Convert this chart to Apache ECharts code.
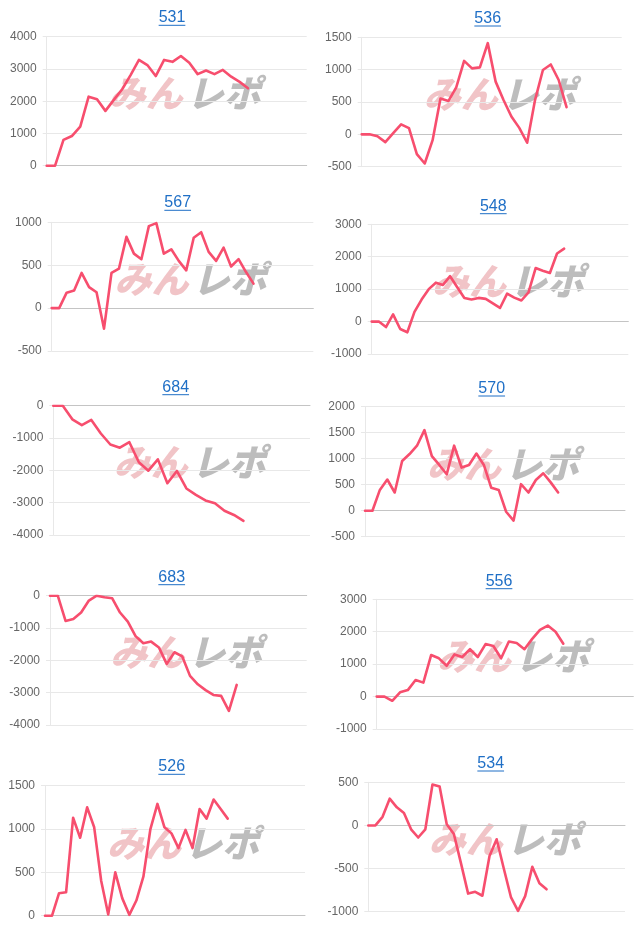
<!DOCTYPE html>
<html><head><meta charset="utf-8">
<script src="https://cdn.jsdelivr.net/npm/echarts@6/dist/echarts.min.js"></script>
<style>html,body{margin:0;padding:0;background:#fff}#c{width:640px;height:931px}</style>
</head><body><div id="c"></div>
<script>
// ---- data ----
const titles = ['531','536','567','548','684','570','683','556','526','534'];
const v531 = [0,0,800,920,1210,2140,2060,1700,2040,2370,2810,3280,3120,2780,3280,3220,3400,3190,2840,2950,2840,2970,2760,2600,2400];
const v536 = [0,0,-30,-120,20,155,95,-305,-450,-90,555,515,725,1135,1020,1035,1410,815,530,275,100,-130,530,995,1080,840,420];
const v567 = [0,0,180,205,410,245,185,-240,410,460,830,635,570,955,990,635,685,550,440,820,885,655,550,705,485,570,420,285];
const v548 = [0,0,-170,220,-230,-330,300,680,1000,1200,1130,1400,1060,730,680,730,700,560,420,860,740,650,900,1650,1570,1500,2100,2250];
const v684 = [0,0,-420,-600,-440,-860,-1200,-1300,-1130,-1750,-2010,-1660,-2400,-2020,-2560,-2760,-2930,-3020,-3250,-3380,-3560];
const v570 = [0,0,400,600,350,955,1090,1250,1550,1050,880,700,1250,830,880,1100,880,440,400,-20,-190,510,350,590,720,545,350];
const v683 = [0,0,-780,-720,-520,-150,0,-50,-80,-520,-800,-1250,-1470,-1420,-1600,-2110,-1750,-1880,-2480,-2740,-2920,-3070,-3100,-3560,-2760];
const v556 = [0,0,-130,130,200,510,430,1280,1180,950,1300,1220,1460,1220,1620,1560,1180,1700,1650,1460,1780,2060,2190,2000,1630];
const v526 = [0,0,260,270,1130,900,1250,1020,400,15,500,200,10,175,450,1000,1290,1020,950,780,990,780,1230,1120,1340,1230,1120];
const v534 = [0,0,100,310,210,145,-45,-140,-45,475,450,15,-100,-440,-790,-770,-815,-355,-160,-500,-830,-990,-820,-480,-670,-740];
const seriesValues = [v531,v536,v567,v548,v684,v570,v683,v556,v526,v534];
// number of day slots on each x axis
const dayCounts = [32,34,36,37,28,36,34,34,38,37];
// y-axis tick ranges
const yMin  = [0,-500,-500,-1000,-4000,-500,-4000,-1000,0,-1000];
const yMax  = [4000,1500,1000,3000,0,2000,0,3000,1500,500];
const yStep = [1000,500,500,1000,1000,500,1000,1000,500,500];

// ---- layout (pixels) ----
const layout = [
 {L:46.7,R:306.7,T:36.7,B:165.7,tx:172,ty:17.8},
 {L:361.7,R:621.7,T:37.3,B:166.7,tx:487.7,ty:18.5},
 {L:51.7,R:313.3,T:222.3,B:351,tx:177.7,ty:202.8},
 {L:371.7,R:628.3,T:224.3,B:354,tx:493.3,ty:206.2},
 {L:53.3,R:310,T:405.7,B:535,tx:175.7,ty:387.2},
 {L:365,R:625,T:406.7,B:536.7,tx:491.7,ty:388.5},
 {L:50,R:306.7,T:595.7,B:725,tx:171.7,ty:577.2},
 {L:376.7,R:633.3,T:599.3,B:729,tx:499,ty:581.2},
 {L:45,R:305,T:785.7,B:915.7,tx:171.7,ty:766.8},
 {L:368.3,R:625,T:782.3,B:911.7,tx:490.7,ty:763.5}
];

const FONT = '"Liberation Sans", Arial, sans-serif';
const TITLE_COLOR = '#1f6fc6';
const LINE_COLOR = '#f74e6e';

const cv = document.createElement('canvas').getContext('2d');
cv.font = '16px ' + FONT;

const grid = [], xAxis = [], yAxis = [], series = [], graphic = [];
titles.forEach((t, i) => {
  const g = layout[i];
  grid.push({left: g.L, top: g.T, width: g.R - g.L, height: g.B - g.T, containLabel: false});
  const cats = [];
  for (let d = 1; d <= dayCounts[i]; d++) cats.push(String(d));
  xAxis.push({
    gridIndex: i, type: 'category', data: cats, boundaryGap: false,
    axisLine: {show: true, onZero: true, lineStyle: {color: '#c4c4c4', width: 1}},
    axisTick: {show: false}, axisLabel: {show: false}, splitLine: {show: false}
  });
  yAxis.push({
    gridIndex: i, type: 'value', min: yMin[i], max: yMax[i], interval: yStep[i],
    axisLine: {show: true, lineStyle: {color: '#e8e8e8'}},
    axisTick: {show: true, length: 4, lineStyle: {color: '#e8e8e8'}},
    axisLabel: {color: '#666', fontSize: 12, fontFamily: FONT, margin: 10, formatter: v => String(v)},
    splitLine: {show: true, lineStyle: {color: '#e8e8e8', width: 1}}
  });
  series.push({
    type: 'line', xAxisIndex: i, yAxisIndex: i, data: seriesValues[i],
    showSymbol: false, symbol: 'none', silent: true, z: 3,
    lineStyle: {color: LINE_COLOR, width: 2.6, join: 'round', cap: 'round'}
  });
  // title (link-style, underlined)
  const w = cv.measureText(t).width;
  graphic.push({
    type: 'text', x: g.tx, y: g.ty, z: 10,
    style: {text: t, fill: TITLE_COLOR, font: '16px ' + FONT, textAlign: 'center', textVerticalAlign: 'middle'}
  });
  graphic.push({
    type: 'line', z: 10,
    shape: {x1: g.tx - w / 2, y1: g.ty + 7.5, x2: g.tx + w / 2, y2: g.ty + 7.5},
    style: {stroke: TITLE_COLOR, lineWidth: 1}
  });
  // watermark
  const cx = (g.L + g.R) / 2, cy = (g.T + g.B) / 2;
  graphic.push({
    type: 'text', x: cx - 68, y: cy - 8, z: 0,
    style: {text: 'みん', fill: 'rgba(225,125,130,0.45)', fontSize: 37, fontWeight: 900, fontStyle: 'italic',
      fontFamily: '"Noto Sans CJK JP", sans-serif', textAlign: 'left', textVerticalAlign: 'middle'}
  });
  graphic.push({
    type: 'text', x: cx + 10, y: cy - 8, z: 0,
    style: {text: 'レポ', fill: 'rgba(135,135,135,0.55)', fontSize: 37, fontWeight: 900, fontStyle: 'italic',
      fontFamily: '"Noto Sans CJK JP", sans-serif', textAlign: 'left', textVerticalAlign: 'middle'}
  });
});

const chart = echarts.init(document.getElementById('c'), null, {renderer: 'canvas'});
chart.setOption({
  animation: false,
  backgroundColor: '#fff',
  grid, xAxis, yAxis, series, graphic
});
</script>
</body></html>
